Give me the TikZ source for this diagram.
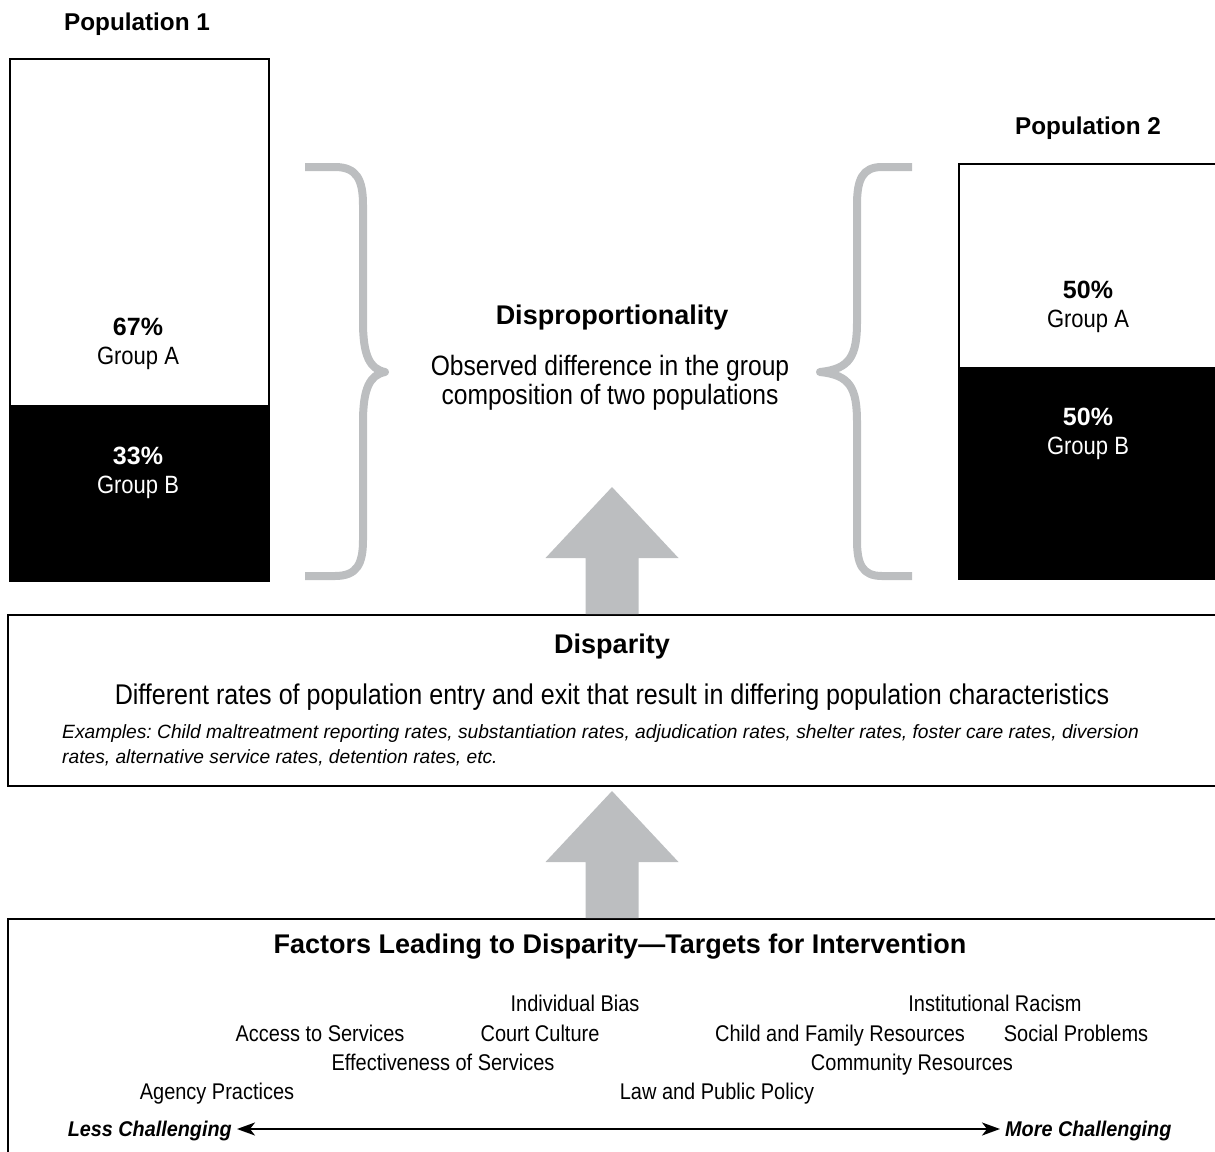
\documentclass[tikz,border=0pt]{standalone}
\usepackage{fontspec}
\setmainfont{Liberation Sans}[UprightFeatures={FakeStretch=0.88},BoldItalicFeatures={FakeStretch=0.93}]
\usepackage{xcolor}
\usetikzlibrary{calc}
\usetikzlibrary{arrows.meta}

\definecolor{softgray}{HTML}{BCBEC0}

\tikzset{
	popbox/.style = {draw, line width=1.6pt, minimum width=259pt, anchor=north west, inner sep=0pt},
	bigbox/.style = {draw, line width=2.4pt, minimum width=1240pt, anchor=north west, inner sep=0pt},
	grp/.style = {font=\fontsize{25}{29}\selectfont, align=center, inner sep=0pt},
	head/.style = {font=\fontsize{27}{32}\selectfont\bfseries, inner sep=0pt},
	factor/.style = {font=\fontsize{22.7}{26}\selectfont, inner sep=0pt, text height=16pt, text depth=0pt},
	brace/.style = {draw=softgray, line width=8pt, line join=round},
}

% grey block arrow, drawn upwards from its base
\newcommand{\blockup}[1]{
	\fill[softgray] (#1) ++(-26.5,0) -- ++(0,-56) -- ++(-40,0) -- ++(66.5,-71) -- ++(66.5,71) -- ++(-40,0) -- ++(0,56) -- cycle;
}

\begin{document}
\frenchspacing
\begin{tikzpicture}[x=1pt, y=-1pt]
	\useasboundingbox (0,0) rectangle (1215,1151);
	\clip (0,0) rectangle (1215,1151);

	% population 1
	\node[head, font=\fontsize{24.3}{28}\selectfont\bfseries] (pop1title) at (137,24) {Population 1};
	\node[popbox, minimum height=347pt] (pop1a) at (9,58) {};
	\node[popbox, fill=black, minimum height=175pt] (pop1b) at (9,405) {};
	\node[grp] (pop1atext) at (138,344) {\textbf{67\%}\\Group A};
	\node[grp, text=white] (pop1btext) at (138,473) {\textbf{33\%}\\Group B};

	% population 2
	\node[head, font=\fontsize{24.3}{28}\selectfont\bfseries] (pop2title) at (1088,128) {Population 2};
	\node[popbox, minimum height=204pt] (pop2a) at (958,163) {};
	\node[popbox, fill=black, minimum height=211pt] (pop2b) at (958,367) {};
	\node[grp] (pop2atext) at (1088,307) {\textbf{50\%}\\Group A};
	\node[grp, text=white] (pop2btext) at (1088,434) {\textbf{50\%}\\Group B};

	% braces
	\draw[brace] (305,167) -- (335,167) .. controls (357,167) and (363,180) .. (363,205) -- (363,322) .. controls (363,356) and (370,369) .. (385,372) .. controls (370,375) and (363,388) .. (363,422) -- (363,540) .. controls (363,564) and (357,576) .. (335,576) -- (305,576);
	\draw[brace] (912,167) -- (882,167) .. controls (862,167) and (857,180) .. (857,205) -- (857,322) .. controls (857,356) and (850,369) .. (820,372) .. controls (850,375) and (857,388) .. (857,422) -- (857,540) .. controls (857,564) and (862,576) .. (882,576) -- (912,576);

	\node[head] (distitle) at (612,318) {Disproportionality};
	\node[grp, font=\fontsize{28}{29}\selectfont] (distext) at (610,383) {Observed difference in the group\\composition of two populations};

	% disparity
	\node[bigbox, minimum height=171pt] (disparity) at (7,614) {};
	\node[head] (disptitle) at (612,647) {Disparity};
	\node[font=\fontsize{28.5}{32}\selectfont, inner sep=0pt] (disptext) at (612,697) {Different rates of population entry and exit that result in differing population characteristics};
	\node[font=\fontsize{19.2}{25}\selectfont\itshape, anchor=west, align=left, inner sep=0pt] (dispex) at (62,745) {Examples: Child maltreatment reporting rates, substantiation rates, adjudication rates, shelter rates, foster care rates, diversion\\rates, alternative service rates, detention rates, etc.};

	% factors
	\node[bigbox, minimum height=260pt] (factors) at (7,918) {};
	\node[head] (factitle) at (620,947) {Factors Leading to Disparity---Targets for Intervention};
	\node[factor] (f1) at (575,1003) {Individual Bias};
	\node[factor] (f2) at (995,1003) {Institutional Racism};
	\node[factor] (f3) at (320,1033) {Access to Services};
	\node[factor] (f4) at (540,1033) {Court Culture};
	\node[factor] (f5) at (840,1033) {Child and Family Resources};
	\node[factor] (f6) at (1076,1033) {Social Problems};
	\node[factor] (f7) at (443,1062) {Effectiveness of Services};
	\node[factor] (f8) at (912,1062) {Community Resources};
	\node[factor] (f9) at (217,1091) {Agency Practices};
	\node[factor] (f10) at (717,1091) {Law and Public Policy};

	\node[factor, font=\fontsize{21.3}{26}\selectfont\bfseries\itshape, text height=15pt, anchor=east, inner sep=5pt] (less) at (237,1129) {Less Challenging};
	\node[factor, font=\fontsize{21.3}{26}\selectfont\bfseries\itshape, text height=15pt, anchor=west, inner sep=5pt] (more) at (1000,1129) {More Challenging};
	\draw[{Stealth[length=18pt,width=13pt,inset=5pt]}-{Stealth[length=18pt,width=13pt,inset=5pt]}, line width=2pt] (less) -- (more);

	% arrows up
	\blockup{disparity.north -| disptitle.south}
	\blockup{factors.north -| disptitle.south}
\end{tikzpicture}
\end{document}
